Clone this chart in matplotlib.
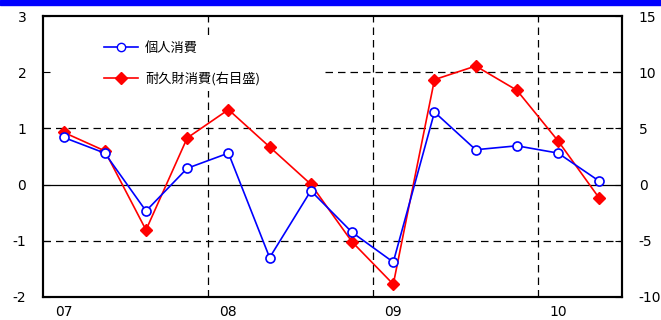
import matplotlib.pyplot as plt
from matplotlib.patches import Rectangle

plt.rcParams['font.family'] = ['DejaVu Sans']
plt.rcParams['axes.unicode_minus'] = False

# quarterly, 2007Q1 .. 2010Q2
quarters = list(range(14))
yearLabels = ['07', '08', '09', '10']
yearTickPos = [0, 4, 8, 12]

personal = [0.84, 0.56, -0.47, 0.29, 0.56, -1.30, -0.11,
            -0.85, -1.38, 1.29, 0.62, 0.69, 0.56, 0.06]
durable = [4.65, 3.0, -4.04, 4.15, 6.67, 3.35, 0.03,
           -5.1, -8.87, 9.34, 10.55, 8.39, 3.88, -1.22]

fig = plt.figure(figsize=(6.61, 3.2), dpi=100)
ax = fig.add_axes([0.065, 0.072, 0.876, 0.878])
ax2 = ax.twinx()

# blue band across the top
fig.add_artist(Rectangle((0, 0.984), 1, 0.016, transform=fig.transFigure,
                         color='#0000ff', zorder=10))

ax.set_xlim(-0.5, 13.55)
ax.set_ylim(-2, 3)
ax2.set_ylim(-10, 15)
ax.set_yticks([-2, -1, 0, 1, 2, 3])
ax2.set_yticks([-10, -5, 0, 5, 10, 15])
ax.set_xticks(yearTickPos)
ax.set_xticklabels(yearLabels)

dash = (0, (6, 4))
for yv in [-1, 1]:
    ax.axhline(yv, color='black', lw=0.9, ls=dash, zorder=1)
ax.axhline(2, xmin=0.487, color='black', lw=0.9, ls=dash, zorder=1)
for xv in [3.5, 7.5, 11.5]:
    ax.axvline(xv, color='black', lw=0.9, ls=dash, zorder=1)
ax.axhline(0, color='black', lw=0.9, zorder=1)

ax.tick_params(axis='x', length=0, labelsize=10, pad=6)
ax.tick_params(axis='y', direction='in', length=5, labelsize=10, pad=12)
ax2.tick_params(axis='y', direction='in', length=5, labelsize=10, pad=12)
for a in (ax, ax2):
    for s in a.spines.values():
        s.set_linewidth(1.5)

l2, = ax2.plot(quarters, durable, color='red', lw=1.2, marker='D',
               markersize=6.5, markerfacecolor='red', markeredgecolor='red',
               label='耐久財消費(右目盛)', zorder=3)
l1, = ax2.plot([], [], color='blue', lw=1.2, marker='o', markersize=6,
               markerfacecolor='white', markeredgecolor='blue', label='個人消費')
ax2.plot(quarters, [v * 5 for v in personal], color='blue', lw=1.2,
         marker='o', markersize=6.5, markerfacecolor='white',
         markeredgecolor='blue', mew=1.2, zorder=4)

leg = ax2.legend(handles=[l1, l2], loc='upper left', bbox_to_anchor=(0.085, 0.95),
                 frameon=True, fancybox=False, framealpha=1, edgecolor='none',
                 prop={'family': ['Noto Sans CJK JP', 'DejaVu Sans'], 'size': 9.5},
                 handlelength=2.6, labelspacing=1.3,
                 borderpad=0.4, handletextpad=0.5)
leg.set_zorder(5)

fig.savefig('out.png', dpi=100)
